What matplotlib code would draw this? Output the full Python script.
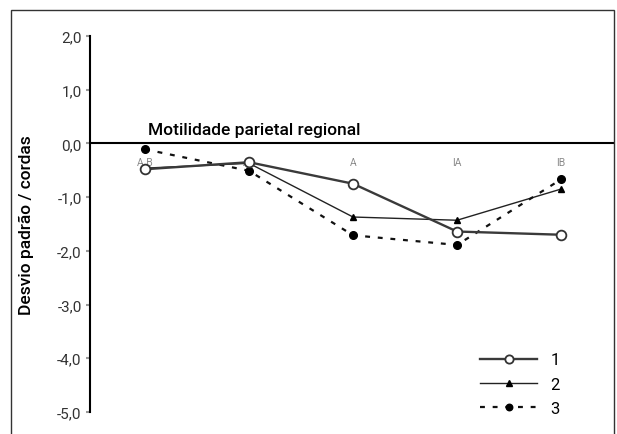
import numpy as np
from matplotlib import pyplot as plt
from matplotlib.patches import Rectangle

# data
categories = ['A B', 'AL', 'A', 'IA', 'IB']
series_1 = [-0.48, -0.35, -0.75, -1.64, -1.70]
series_2 = [-0.46, -0.37, -1.37, -1.43, -0.85]
series_3 = [-0.11, -0.51, -1.71, -1.89, -0.67]
series_names = ['1', '2', '3']
y_ticks = [2, 1, 0, -1, -2, -3, -4, -5]
y_tick_labels = ['2,0', '1,0', '0,0', '-1,0', '-2,0', '-3,0', '-4,0', '-5,0']

plt.rcParams['font.family'] = ['Roboto', 'DejaVu Sans']

fig = plt.figure(figsize=(6.17, 4.35), dpi=100)
ax = fig.add_axes([90 / 617, 22 / 435, 524 / 617, 376 / 435])

x = np.arange(len(categories))

# frame around the whole chart (bottom edge runs off the picture)
fig.patches.append(Rectangle((11 / 617, -0.05), 603 / 617, 1 - 11 / 435 + 0.05,
                             transform=fig.transFigure, fill=False,
                             edgecolor='#333333', linewidth=1.0))

ax.axhline(0, color='black', linewidth=1.5, zorder=2)

ax.plot(x, series_1, color='#3a3a3a', linewidth=1.7, marker='o', markersize=7,
        markerfacecolor='white', markeredgecolor='#333333', markeredgewidth=1.3,
        label=series_names[0], zorder=4)
ax.plot(x, series_2, color='#222222', linewidth=1.0, marker='^', markersize=5,
        markerfacecolor='black', markeredgecolor='black',
        label=series_names[1], zorder=3)
ax.plot(x, series_3, color='#111111', linewidth=1.6, linestyle=(0, (2.2, 3.5)),
        marker='o', markersize=5.5, markerfacecolor='black', markeredgecolor='black',
        label=series_names[2], zorder=3)

for xi, cat in zip(x, categories):
    ax.text(xi, -0.34, cat, ha='center', va='center', fontsize=7.5,
            color='#8a8a8a', zorder=1)

ax.text(0.03, 0.25, 'Motilidade parietal regional', fontsize=12.5,
        fontweight='medium', ha='left', va='center', color='black')

ax.set_xlim(-0.53, 4.51)
ax.set_ylim(-5, 2)
ax.set_xticks([])
ax.set_yticks(y_ticks)
ax.set_yticklabels(y_tick_labels, fontsize=11, color='#333333')
ax.tick_params(axis='y', length=3, width=1.5, color='#999999', pad=3)

for side in ['top', 'right', 'bottom']:
    ax.spines[side].set_visible(False)
ax.spines['left'].set_linewidth(1.5)
ax.spines['left'].set_color('black')

ax.set_ylabel('Desvio padrão / cordas', fontsize=12.5, fontweight='medium')
ax.yaxis.set_label_coords(-0.106, 0.5)

ax.legend(loc='lower right', bbox_to_anchor=(0.925, -0.05), frameon=False,
          fontsize=12, handlelength=3.4, handletextpad=0.8, labelspacing=0.55,
          markerscale=0.85)

fig.savefig('out.png', dpi=100)
